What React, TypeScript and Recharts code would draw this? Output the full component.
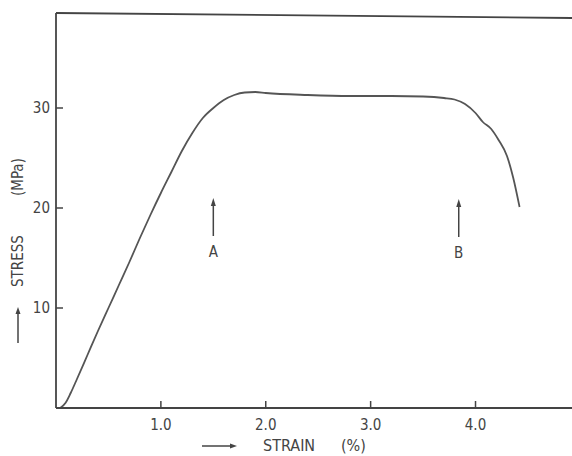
import React from 'react'
import {
  LineChart,
  Line,
  XAxis,
  YAxis,
  ReferenceLine,
  ReferenceDot,
} from 'recharts'

// stress-strain curve
const strain = [
  0.04, 0.09, 0.14, 0.2, 0.3, 0.4, 0.5, 0.6, 0.7, 0.8, 0.9, 1.0, 1.1, 1.2, 1.3, 1.4,
  1.5, 1.6, 1.7, 1.8, 1.9, 2.0, 2.4, 2.8, 3.2, 3.5, 3.7, 3.8, 3.9, 4.0, 4.07, 4.15,
  4.22, 4.3, 4.36, 4.42,
]
const stress = [
  0, 0.5, 1.5, 2.9, 5.3, 7.7, 10.0, 12.3, 14.6, 17.0, 19.3, 21.5, 23.6, 25.7, 27.5,
  29.0, 30.0, 30.8, 31.3, 31.55, 31.6, 31.5, 31.3, 31.2, 31.2, 31.15, 31.0, 30.85,
  30.4, 29.5, 28.6, 27.9, 26.8, 25.2, 23.0, 20.1,
]

const xTicks = [1, 2, 3, 4]
const yTicks = [10, 20, 30]

const markLabels = ['A', 'B']
const markStrain = [1.5, 3.84]
const markStress = [17.2, 17.1]

const data = strain.map((s, i) => ({ strain: s, stress: stress[i] }))

const INK = '#444'
const FONT = '"DejaVu Sans Condensed", "Liberation Sans Narrow", "DejaVu Sans", sans-serif'

function XTick({ x, y, payload }: any) {
  return (
    <g>
      <line x1={x} y1={y} x2={x} y2={y - 7} stroke={INK} strokeWidth={1.5} />
      <text x={x} y={y + 22} textAnchor="middle" fontSize={15} fill={INK} fontFamily={FONT}>
        {payload.value.toFixed(1)}
      </text>
    </g>
  )
}

function YTick({ x, y, payload }: any) {
  return (
    <g>
      <line x1={x} y1={y} x2={x + 7} y2={y} stroke={INK} strokeWidth={1.5} />
      <text x={x - 6} y={y + 5} textAnchor="end" fontSize={15} fill={INK} fontFamily={FONT}>
        {payload.value}
      </text>
    </g>
  )
}

function XTitle({ viewBox }: any) {
  const { x, y } = viewBox
  const ay = y + 38
  return (
    <g>
      <line x1={x + 146} y1={ay} x2={x + 177} y2={ay} stroke={INK} strokeWidth={1.5} />
      <path d={`M${x + 181},${ay} L${x + 174},${ay - 2.5} L${x + 174},${ay + 2.5} Z`} fill={INK} />
      <text x={x + 207} y={ay + 5} fontSize={16} fill={INK} fontFamily={FONT}>
        STRAIN
      </text>
      <text x={x + 285} y={ay + 5} fontSize={16} fill={INK} fontFamily={FONT}>
        (%)
      </text>
    </g>
  )
}

function YTitle() {
  const cx = 18
  return (
    <g>
      <text
        transform={`translate(${cx + 5},287) rotate(-90)`}
        fontSize={15}
        fill={INK}
        fontFamily={FONT}
      >
        STRESS
      </text>
      <text
        transform={`translate(${cx + 5},196) rotate(-90)`}
        fontSize={15}
        fill={INK}
        fontFamily={FONT}
      >
        (MPa)
      </text>
      <line x1={cx} y1={343} x2={cx} y2={312} stroke={INK} strokeWidth={1.5} />
      <path d={`M${cx},307 L${cx - 2.5},314 L${cx + 2.5},314 Z`} fill={INK} />
    </g>
  )
}

function Marker({ cx, cy, label }: any) {
  return (
    <g>
      <line x1={cx} y1={cy} x2={cx} y2={cy - 32} stroke={INK} strokeWidth={1.5} />
      <path d={`M${cx},${cy - 38} L${cx - 2.5},${cy - 30} L${cx + 2.5},${cy - 30} Z`} fill={INK} />
      <text x={cx} y={cy + 21} textAnchor="middle" fontSize={15} fill={INK} fontFamily={FONT}>
        {label}
      </text>
    </g>
  )
}

export default function App() {
  return (
    <div style={{ position: 'absolute', left: 0, top: 0, background: '#fff' }}>
      <LineChart
        width={572}
        height={456}
        data={data}
        margin={{ top: 13, right: 0, left: 0, bottom: 0 }}
      >
        <XAxis
          type="number"
          dataKey="strain"
          domain={[0, 4.92]}
          ticks={xTicks}
          allowDataOverflow
          height={48}
          tickSize={0}
          tickMargin={0}
          tickLine={false}
          tick={(p: any) => <XTick {...p} />}
          axisLine={{ stroke: INK, strokeWidth: 1.8 }}
          label={(p: any) => <XTitle {...p} />}
        />
        <YAxis
          type="number"
          dataKey="stress"
          domain={[0, 39.5]}
          ticks={yTicks}
          allowDataOverflow
          width={56}
          tickSize={0}
          tickMargin={0}
          tickLine={false}
          tick={(p: any) => <YTick {...p} />}
          axisLine={{ stroke: INK, strokeWidth: 1.8 }}
          label={() => <YTitle />}
        />
        <ReferenceLine
          segment={[
            { x: 0, y: 39.5 },
            { x: 4.92, y: 39.0 },
          ]}
          stroke={INK}
          strokeWidth={1.8}
          ifOverflow="visible"
        />
        {markLabels.map((l, i) => (
          <ReferenceDot
            key={l}
            x={markStrain[i]}
            y={markStress[i]}
            r={0}
            ifOverflow="visible"
            shape={(p: any) => <Marker {...p} label={l} />}
          />
        ))}
        <Line
          type="monotone"
          dataKey="stress"
          stroke="#555"
          strokeWidth={1.8}
          dot={false}
          isAnimationActive={false}
        />
      </LineChart>
    </div>
  )
}
